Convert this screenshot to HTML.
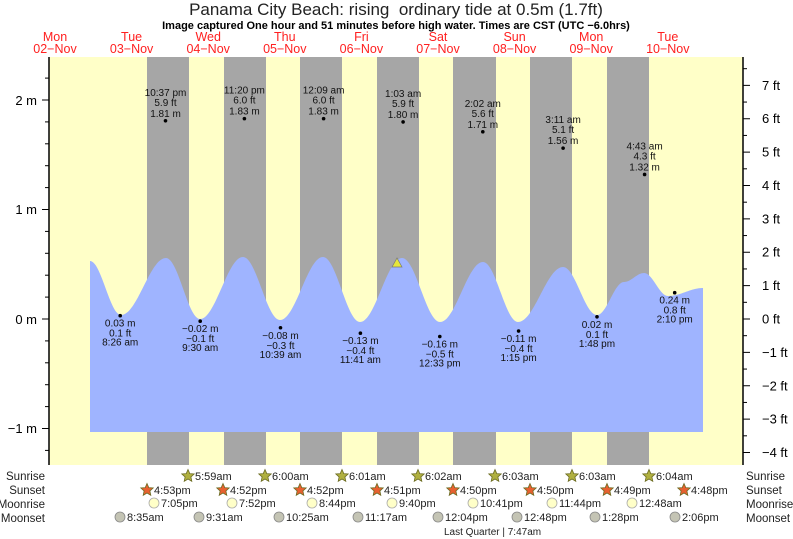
<!DOCTYPE html>
<html><head><meta charset="utf-8"><style>
body{margin:0;background:#fff}
svg{display:block;font-family:"Liberation Sans",sans-serif}
</style></head><body>
<svg id="s" width="793" height="539" viewBox="0 0 793 539" xmlns="http://www.w3.org/2000/svg">
<rect x="49" y="57" width="694" height="408" fill="#ffffc8"/>
<g fill="#a6a6a6">
<rect x="147" y="57" width="42" height="408"/><rect x="224" y="57" width="42" height="408"/>
<rect x="300" y="57" width="42" height="408"/><rect x="377" y="57" width="42" height="408"/>
<rect x="453" y="57" width="43" height="408"/><rect x="530" y="57" width="42" height="408"/>
<rect x="607" y="57" width="42" height="408"/>
</g>
<path id="tide" fill="#9fb4ff" d=""/>
<polygon points="397,258 392,267 402,267" fill="#e6e63c" stroke="#777" stroke-width="0.7"/>
<line x1="49" y1="57" x2="49" y2="465" stroke="#000" stroke-width="1.5"/>
<line x1="743" y1="57" x2="743" y2="465" stroke="#000" stroke-width="1.5"/>
<g id="ticks" stroke="#000" stroke-width="1"></g>
<g font-size="13" fill="#000" text-anchor="end">
<text x="37" y="105">2 m</text><text x="37" y="214">1 m</text><text x="37" y="324">0 m</text><text x="37" y="433">−1 m</text>
</g>
<g id="ftl" font-size="13" fill="#000"></g>
<text x="396" y="15" font-size="17" text-anchor="middle" fill="#222">Panama City Beach: rising&#160; ordinary tide at 0.5m (1.7ft)</text>
<text x="396" y="29" font-size="11" font-weight="bold" text-anchor="middle">Image captured One hour and 51 minutes before high water. Times are CST (UTC −6.0hrs)</text>
<g id="days" font-size="12.5" fill="#ff2020" text-anchor="middle"></g>
<g id="lbl" font-size="10" fill="#111" text-anchor="middle"></g>
<g font-size="11.5" fill="#222">
<text x="45" y="480" text-anchor="end">Sunrise</text><text x="45" y="494" text-anchor="end">Sunset</text>
<text x="45" y="508" text-anchor="end">Moonrise</text><text x="45" y="522" text-anchor="end">Moonset</text>
<text x="746" y="480">Sunrise</text><text x="746" y="494">Sunset</text>
<text x="746" y="508">Moonrise</text><text x="746" y="522">Moonset</text>
</g>
<g id="ast" font-size="11" fill="#222"></g>
<text x="444" y="535" font-size="10" fill="#222">Last Quarter | 7:47am</text>
</svg>
<script>
var NS="http://www.w3.org/2000/svg";
function el(p,t,a,txt){var e=document.createElementNS(NS,t);for(var k in a)e.setAttribute(k,a[k]);if(txt!=null)e.textContent=txt;document.getElementById(p).appendChild(e);return e;}
var K=[[90,261],[121,315],[166,258],[200,319],[243,257],[280,320],[323,257],[360,322],[402,258],[440,322],[483,262],[518,322],[563,267],[597,315],[624,282],[644,273],[668,296],[703,288]];
var d="M90,432 L90,261";
for(var i=0;i<K.length-1;i++){var a=K[i],b=K[i+1];for(var x=Math.ceil(a[0]);x<=b[0];x+=1){var f=(x-a[0])/(b[0]-a[0]);var y=a[1]+(b[1]-a[1])*(1-Math.cos(Math.PI*f))/2;d+=" L"+x+","+y.toFixed(1);}}
d+=" L703,432 Z";document.getElementById("tide").setAttribute("d",d);
for(var m=-1.2;m<=2.45;m+=0.2){var y=319-m*109.5;if(y<57||y>465)continue;var maj=Math.abs(m-Math.round(m))<0.01;el("ticks","line",{x1:maj?42:45,y1:y,x2:49,y2:y});}
for(var h=-4.5;h<=7.6;h+=0.5){var y=319-h*0.3048*109.5;if(y<57||y>465)continue;var maj=Math.abs(h-Math.round(h))<0.01;el("ticks","line",{x1:743,y1:y,x2:maj?750:747,y2:y});if(maj)el("ftl","text",{x:762,y:y+4.5},(h<0?"−"+(-h):h)+" ft");}
var dn=[["Mon","02"],["Tue","03"],["Wed","04"],["Thu","05"],["Fri","06"],["Sat","07"],["Sun","08"],["Mon","09"],["Tue","10"]];
dn.forEach(function(v,i){var x=55+76.6*i;el("days","text",{x:x,y:41},v[0]);el("days","text",{x:x,y:53},v[1]+"−Nov");});
var H=[[165.5,1.81,"10:37 pm","5.9 ft"],[244.4,1.83,"11:20 pm","6.0 ft"],[323.6,1.83,"12:09 am","6.0 ft"],[403.1,1.80,"1:03 am","5.9 ft"],[482.8,1.71,"2:02 am","5.6 ft"],[563.1,1.56,"3:11 am","5.1 ft"],[644.6,1.32,"4:43 am","4.3 ft"]];
H.forEach(function(v){var y=319-v[1]*109.5;el("lbl","circle",{cx:v[0],cy:y,r:1.8,fill:"#000"});el("lbl","text",{x:v[0],y:y-25},v[2]);el("lbl","text",{x:v[0],y:y-15},v[3]);el("lbl","text",{x:v[0],y:y-4},v[1].toFixed(2)+" m");});
var L=[[120.2,0.03,"0.03 m","0.1 ft","8:26 am"],[200.2,-0.02,"−0.02 m","−0.1 ft","9:30 am"],[280.5,-0.08,"−0.08 m","−0.3 ft","10:39 am"],[360.4,-0.13,"−0.13 m","−0.4 ft","11:41 am"],[439.8,-0.16,"−0.16 m","−0.5 ft","12:33 pm"],[518.6,-0.11,"−0.11 m","−0.4 ft","1:15 pm"],[597,0.02,"0.02 m","0.1 ft","1:48 pm"],[674.7,0.24,"0.24 m","0.8 ft","2:10 pm"]];
L.forEach(function(v){var y=319-v[1]*109.5;el("lbl","circle",{cx:v[0],cy:y,r:1.8,fill:"#000"});el("lbl","text",{x:v[0],y:y+11},v[2]);el("lbl","text",{x:v[0],y:y+21},v[3]);el("lbl","text",{x:v[0],y:y+30},v[4]);});
function star(x,y,fill){var p="";for(var i=0;i<10;i++){var r=i%2?3:6.5;var a=-Math.PI/2+i*Math.PI/5;p+=(x+r*Math.cos(a)).toFixed(1)+","+(y+r*Math.sin(a)).toFixed(1)+" ";}el("ast","polygon",{points:p,fill:fill,stroke:"#6a6a20","stroke-width":0.8});}
[[188,"5:59am"],[265,"6:00am"],[342,"6:01am"],[418,"6:02am"],[495,"6:03am"],[572,"6:03am"],[649,"6:04am"]].forEach(function(v){star(v[0],476,"#b0b040");el("ast","text",{x:v[0]+7,y:480},v[1]);});
[[147,"4:53pm"],[223,"4:52pm"],[300,"4:52pm"],[377,"4:51pm"],[453,"4:50pm"],[530,"4:50pm"],[607,"4:49pm"],[684,"4:48pm"]].forEach(function(v){star(v[0],490,"#e86030");el("ast","text",{x:v[0]+7,y:494},v[1]);});
[[154,"7:05pm"],[232,"7:52pm"],[312,"8:44pm"],[392,"9:40pm"],[473,"10:41pm"],[552,"11:44pm"],[632,"12:48am"]].forEach(function(v){el("ast","circle",{cx:v[0],cy:503,r:5,fill:"#ffffc8",stroke:"#aaa","stroke-width":0.8});el("ast","text",{x:v[0]+7,y:507},v[1]);});
[[120,"8:35am"],[199,"9:31am"],[279,"10:25am"],[358,"11:17am"],[438,"12:04pm"],[517,"12:48pm"],[595,"1:28pm"],[675,"2:06pm"]].forEach(function(v){el("ast","circle",{cx:v[0],cy:517,r:5,fill:"#c4c4b4",stroke:"#888","stroke-width":0.8});el("ast","text",{x:v[0]+7,y:521},v[1]);});
</script>
</body></html>
